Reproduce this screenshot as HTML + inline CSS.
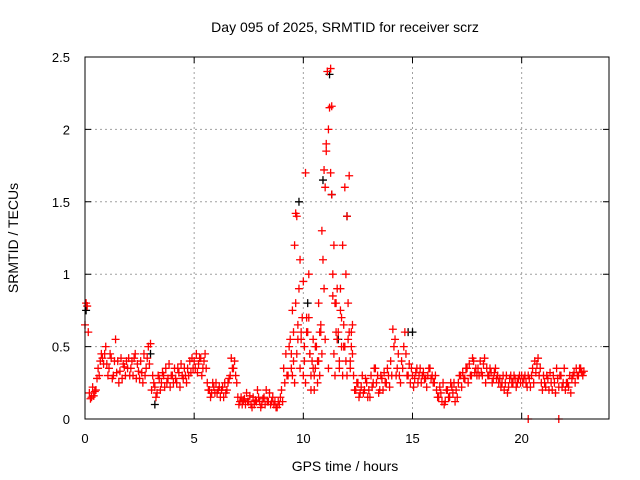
<!DOCTYPE html>
<html><head><meta charset="utf-8"><style>
body{margin:0;background:#fff}
svg{display:block;font-family:"Liberation Sans",sans-serif}
</style></head><body>
<svg id="chart" width="640" height="480" xmlns="http://www.w3.org/2000/svg">
<text x="345" y="32" font-size="14" text-anchor="middle">Day 095 of 2025, SRMTID for receiver scrz</text>
<text x="18" y="238" font-size="14" text-anchor="middle" transform="rotate(-90 18 238)">SRMTID / TECUs</text>
<text x="345" y="471" font-size="14" text-anchor="middle">GPS time / hours</text>
<g id="grid"></g>
<g id="ticks"></g>
<g id="marks"></g>
<rect x="85" y="57" width="524" height="362" fill="none" stroke="#000" stroke-width="1"/>
</svg>
<script>
const xTicks=[0,5,10,15,20];
const yTicks=[0,0.5,1,1.5,2,2.5];
const yTickLabels=["0","0.5","1","1.5","2","2.5"];
const startHour=0, stepHours=0.1;
const redA=[.65,.78,.18,.15,.16,.2,.35,.4,.42,.45,
.38,.35,.42,.3,.55,.4,.33,.28,.36,.4,
.42,.35,.3,.45,.38,.28,.32,.45,.35,.5,
.52,.3,.22,.18,.28,.25,.3,.35,.28,.22,
.3,.35,.25,.32,.38,.28,.3,.35,.4,.42,
.4,.45,.38,.42,.35,.45,.25,.2,.18,.22,
.25,.2,.15,.22,.25,.2,.28,.42,.35,.3,
.15,.12,.1,.14,.18,.12,.1,.15,.13,.2,
.12,.1,.15,.2,.12,.1,.15,.12,.08,.1,
.2,.35,.45,.3,.55,.75,1.2,1.4,.9,.6,
.95,1.7,.6,.45,.4,.3,.5,.8,.6,1.1,
1.6,2.4,2.15,1.55,1.2,.8,.6,.9,1.2,1.6,
1.4,.6,.5,.3,.2,.25,.18,.3,.2,.25,
.2,.3,.25,.35,.3,.2,.28,.32,.25,.3,
.4,.62,.55,.35,.3,.4,.5,.45,.3,.25,
.3,.28,.35,.3,.25,.32,.28,.3,.35,.3,
.25,.2,.15,.18,.25,.12,.2,.15,.22,.25,
.2,.25,.3,.32,.28,.35,.38,.3,.4,.35,
.35,.4,.3,.42,.35,.3,.32,.28,.35,.3,
.28,.25,.2,.3,.22,.3,.25,.28,.25,.3,
.3,.28,.25,.3,.22,.35,.4,.38,.3,.25,
.3,.22,.28,.32,.2,.25,.35,.22,.3,.25,
.2,.25,.3,.28,.32,.35,.3,.35,.3];
const redB=[.8,.6,.14,.22,.19,.28,.3,.45,.38,.5,
.3,.45,.28,.4,.32,.25,.42,.38,.3,.35,
.3,.4,.42,.28,.33,.4,.25,.3,.42,.38,
.2,.25,.15,.3,.2,.32,.22,.25,.38,.3,
.25,.28,.35,.22,.3,.35,.25,.3,.32,.35,
.35,.32,.42,.3,.4,.35,.2,.15,.25,.18,
.18,.22,.2,.15,.18,.25,.3,.35,.4,.25,
.1,.15,.13,.1,.12,.16,.08,.1,.12,.15,
.08,.14,.1,.12,.18,.12,.1,.08,.12,.15,
.12,.25,.3,.5,.35,.4,.8,.55,1.1,.7,
.5,.7,1.0,.3,.55,.35,.4,.6,1.3,.9,
1.85,2.0,1.7,1.0,.8,.55,.4,.7,.5,1.0,
.8,.4,.65,.2,.25,.15,.22,.18,.28,.15,
.15,.22,.35,.25,.18,.3,.2,.25,.35,.22,
.3,.5,.3,.45,.25,.35,.6,.3,.38,.35,
.22,.32,.25,.35,.3,.28,.22,.35,.28,.25,
.3,.15,.22,.12,.1,.2,.15,.25,.18,.12,
.15,.3,.22,.28,.35,.25,.3,.42,.32,.3,
.3,.32,.38,.25,.3,.35,.25,.32,.28,.25,
.22,.3,.25,.18,.28,.25,.3,.22,.28,.25,
.25,.3,.22,.28,.3,.25,.32,.42,.35,.2,
.25,.3,.2,.25,.3,.18,.28,.3,.22,.35,
.25,.22,.18,.3,.25,.3,.35,.32,.33];
const extraHours=[20.3,21.7,11.25,11.3,10.95,12.1,9.65,11.05,9.5,9.55,9.7,9.75,9.85,9.9,10.05,10.1,10.25,10.35,10.45,10.55,10.65,10.7,10.8,10.85,11.15,11.4,11.45,11.5,11.55,11.65,11.7,11.75,11.8,11.85,11.95,12.05,12.15,12.2,12.25,9.45,9.6,10.0,10.15,10.3,10.5,10.75,11.0,11.35,11.9,12.0];
const extraValues=[0,0,2.42,2.16,1.72,1.68,1.42,1.9,0.3,0.6,0.45,0.65,0.35,0.55,0.4,0.25,0.7,0.2,0.35,0.5,0.25,0.4,0.65,0.45,0.35,0.45,0.3,0.6,0.9,0.35,0.75,0.5,0.3,0.65,0.4,0.55,0.35,0.6,0.45,0.45,0.25,0.3,0.6,0.45,0.2,0.3,0.55,0.85,0.5,0.3];
const blackHours=[0.05,3.0,9.8,10.9,11.2,11.3,14.8,15.0,12.0,3.2,10.2,11.6];
const blackValues=[0.75,0.45,1.5,1.65,2.38,1.55,0.6,0.6,1.4,0.1,0.8,0.55];

const X0=85,X1=609,Y0=419,Y1=57;
const xs=h=>X0+h/24*(X1-X0);
const ys=v=>Y0-v/2.5*(Y0-Y1);
const NS="http://www.w3.org/2000/svg";
function mk(tag,attrs,parent){const e=document.createElementNS(NS,tag);for(const k in attrs)e.setAttribute(k,attrs[k]);parent.appendChild(e);return e;}
const grid=document.getElementById('grid'),ticks=document.getElementById('ticks'),marks=document.getElementById('marks'),svg=document.getElementById('chart');
xTicks.forEach(t=>{const x=xs(t);
 if(t>0){const g=mk('line',{x1:x,x2:x,y1:Y1,y2:Y0,stroke:'#a0a0a0','stroke-dasharray':'2,3'},grid);
 
 }
 const tk=mk('path',{d:`M${x},${Y0}v-6M${x},${Y1}v6`,stroke:'#000'},ticks);
 
 
 const l=mk('text',{x:x,y:443,'font-size':13,'text-anchor':'middle'},svg);l.textContent=t;
 
 });
yTicks.forEach((t,i)=>{const y=ys(t);
 if(t>0&&t<2.5){const g=mk('line',{x1:X0,x2:X1,y1:y,y2:y,stroke:'#a0a0a0','stroke-dasharray':'2,3'},grid);
 
 }
 const tk=mk('path',{d:`M${X0},${y}h6M${X1},${y}h-6`,stroke:'#000'},ticks);
 
 
 const l=mk('text',{x:70,y:y+5,'font-size':13,'text-anchor':'end'},svg);l.textContent=yTickLabels[i];
 
 });
function plus(h,v,col){const x=xs(h),y=ys(v);
 const p=mk('path',{d:`M${x-4},${y}h8M${x},${y-4}v8`,stroke:col,'stroke-width':1.3},marks);
 
 }
blackHours.forEach((h,i)=>plus(h,blackValues[i],'#000'));
redA.forEach((v,i)=>plus(startHour+i*stepHours,v,'#f00'));
redB.forEach((v,i)=>plus(startHour+i*stepHours+0.05,v,'#f00'));
extraHours.forEach((h,i)=>plus(h,extraValues[i],'#f00'));
</script>
</body></html>
